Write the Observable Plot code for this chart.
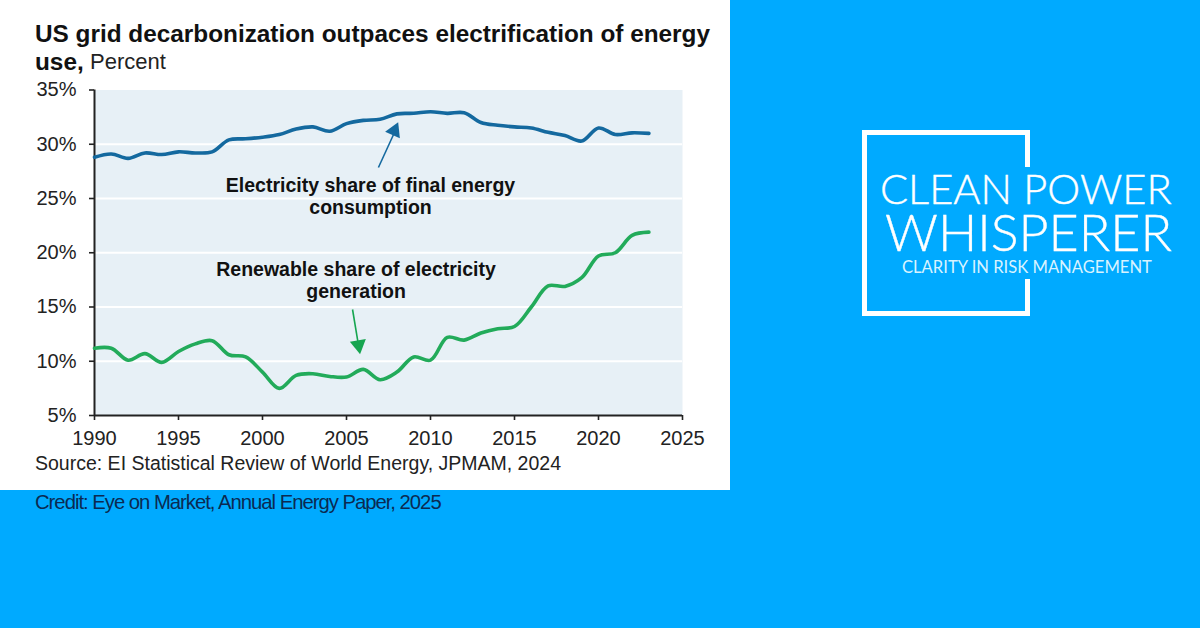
<!DOCTYPE html>
<html>
<head>
<meta charset="utf-8">
<script src="https://cdn.jsdelivr.net/npm/d3@7"></script>
<script src="https://cdn.jsdelivr.net/npm/@observablehq/plot@0.6"></script>
<style>
html,body{margin:0;padding:0;width:1200px;height:628px;overflow:hidden;background:#00aaff;font-family:"Liberation Sans",Arial,sans-serif}
#panel{position:absolute;left:0;top:0;width:730px;height:490px;background:#fff}
#chart{position:absolute;left:0;top:0}
#chart svg{background:transparent;display:block}
.t{position:absolute;white-space:nowrap}
#title{left:35px;top:20px;font-size:24.35px;line-height:28px;font-weight:700;color:#111}
#unit{left:90px;top:48px;font-size:22px;line-height:28px;font-weight:400;color:#222}
#source{left:35px;top:453px;font-size:19.5px;line-height:20px;color:#222}
#credit{left:35px;top:490px;font-size:20.25px;line-height:24px;letter-spacing:-1px;color:#0b2a52}
.logo{position:absolute;background:#fff}
.lt{position:absolute;white-space:nowrap;color:#fff;font-family:"Lato",sans-serif;font-weight:300}
</style>
</head>
<body>
<div id="panel"></div>
<div id="chart"></div>
<div class="t" id="title">US grid decarbonization outpaces electrification of energy<br>use,</div>
<div class="t" id="unit">Percent</div>
<div class="t" id="source">Source: EI Statistical Review of World Energy, JPMAM, 2024</div>
<div class="t" id="credit">Credit: Eye on Market, Annual Energy Paper, 2025</div>

<div class="logo" style="left:862px;top:130px;width:168px;height:5px"></div>
<div class="logo" style="left:862px;top:311px;width:168px;height:5px"></div>
<div class="logo" style="left:862px;top:130px;width:5px;height:186px"></div>
<div class="logo" style="left:1025px;top:130px;width:5px;height:37px"></div>
<div class="logo" style="left:1025px;top:279px;width:5px;height:37px"></div>
<div class="lt" style="left:880px;top:165px;font-size:41.6px;line-height:46px;-webkit-text-stroke:0.4px #fff">CLEAN POWER</div>
<div class="lt" style="left:885px;top:206px;font-size:52px;line-height:50px;-webkit-text-stroke:0.4px #fff">WHISPERER</div>
<div class="lt" style="left:902px;top:257px;font-size:16.6px;line-height:20px;font-weight:400;color:#d8f3ff">CLARITY IN RISK MANAGEMENT</div>

<script>
const years = d3.range(1990, 2024);
const electricityShare = [28.8,29.1,28.7,29.2,29.05,29.3,29.2,29.3,30.4,30.5,30.65,30.9,31.4,31.6,31.2,31.9,32.2,32.3,32.8,32.85,33.0,32.85,32.9,32.0,31.75,31.6,31.5,31.1,30.8,30.3,31.5,30.9,31.05,31.0];
const renewableShare = [11.2,11.2,10.1,10.7,9.9,10.9,11.6,11.9,10.6,10.4,9.0,7.5,8.7,8.85,8.6,8.55,9.25,8.3,9.0,10.4,10.1,12.2,11.95,12.6,13.0,13.2,15.0,16.95,16.9,17.7,19.7,20.0,21.6,21.9];
const xTicks = [1990,1995,2000,2005,2010,2015,2020,2025];
const yTicks = [5,10,15,20,25,30,35];
const gridLines = [10,15,20,25,30];
const labels = [
  {year:2006.43, value:25.27, text:"Electricity share of final energy\nconsumption"},
  {year:2005.57, value:17.53, text:"Renewable share of electricity\ngeneration"}
];
const arrows = [
  {x1:2006.9, y1:27.86, x2:2007.8, y2:30.9, hx:2007.85, hy:31.25, angle:24, color:"#14699f"},
  {x1:2005.36, y1:14.77, x2:2005.7, y2:11.6, hx:2005.72, hy:11.5, angle:171, color:"#16a550"}
];
const blue = "#14699f", green = "#22ab5a";
const row = values => years.map((year,i)=>({year, value:values[i]}));

const plot = Plot.plot({
  width:730, height:490,
  marginLeft:94, marginRight:48, marginTop:89.5, marginBottom:75,
  style:{background:"transparent", fontFamily:"'Liberation Sans',Arial,sans-serif", color:"#222"},
  x:{domain:[1990,2025], label:null},
  y:{domain:[5,35], label:null},
  marks:[
    Plot.frame({fill:"#e7f0f6", stroke:null}),
    Plot.ruleY(gridLines,{stroke:"#fff", strokeWidth:2}),
    Plot.axisX({ticks:xTicks, tickFormat:d=>String(d), tickSize:5, tickPadding:10, fontSize:20, stroke:"#222", strokeWidth:1.6, color:"#222", label:null}),
    Plot.axisY({ticks:yTicks, tickFormat:d=>d+"%", tickSize:5, tickPadding:13, fontSize:20, stroke:"#222", strokeWidth:1.6, color:"#222", label:null}),
    Plot.ruleX([1990],{stroke:"#222", strokeWidth:2}),
    Plot.ruleY([5],{stroke:"#222", strokeWidth:2}),
    Plot.line(row(electricityShare),{x:"year", y:"value", stroke:blue, strokeWidth:3.6, curve:"catmull-rom"}),
    Plot.line(row(renewableShare),{x:"year", y:"value", stroke:green, strokeWidth:3.6, curve:"catmull-rom"}),
    Plot.link(arrows,{x1:"x1", y1:"y1", x2:"x2", y2:"y2", stroke:"color", strokeWidth:1.6}),
    Plot.dot(arrows,{x:"hx", y:"hy", r:6, symbol:"triangle", rotate:"angle", fill:"color", stroke:null}),
    Plot.text(labels,{x:"year", y:"value", text:"text", fontSize:19.5, fontWeight:700, fill:"#111", lineHeight:1.13, lineAnchor:"middle", textAnchor:"middle"})
  ]
});
document.getElementById("chart").appendChild(plot);
</script>
</body>
</html>
